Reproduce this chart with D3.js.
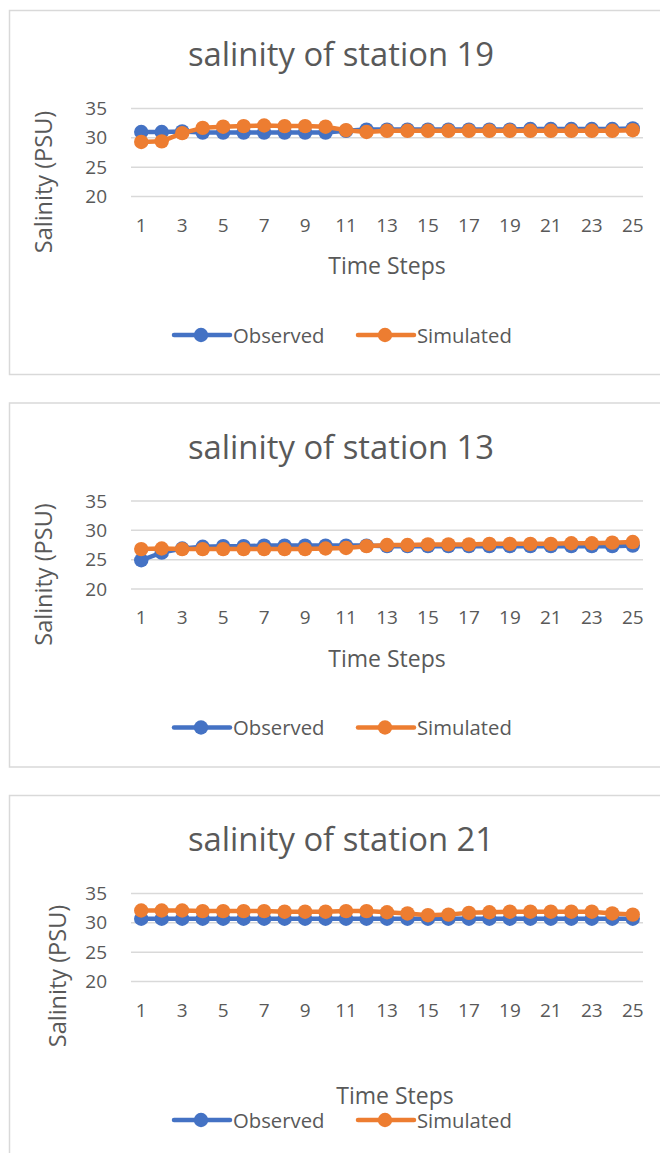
<!DOCTYPE html>
<html>
<head>
<meta charset="utf-8">
<script src="https://cdn.jsdelivr.net/npm/d3@7"></script>
<style>
  html, body { margin: 0; padding: 0; background: #fff; }
  svg { display: block; }
  text { font-family: "Open Sans", "Noto Sans", sans-serif; fill: #595959; }
</style>
</head>
<body>
<svg id="chart" width="660" height="1153"></svg>
<script>
// ---- Data ----
const timeSteps = d3.range(1, 26);
const xTickLabels = [1, 3, 5, 7, 9, 11, 13, 15, 17, 19, 21, 23, 25];
const yTickValues = [20, 25, 30, 35];
const seriesNames = ["Observed", "Simulated"];
const chartTitles = ["salinity of station 19", "salinity of station 13", "salinity of station 21"];

const observed19 = [31.0, 31.0, 31.1, 30.9, 30.9, 30.9, 30.9, 30.9, 30.9, 30.9, 31.2, 31.4, 31.4, 31.4, 31.4, 31.4, 31.4, 31.4, 31.4, 31.5, 31.5, 31.5, 31.5, 31.5, 31.6];
const simulated19 = [29.3, 29.4, 30.8, 31.7, 31.9, 32.0, 32.1, 32.0, 32.0, 31.9, 31.3, 31.0, 31.2, 31.2, 31.2, 31.2, 31.2, 31.2, 31.2, 31.2, 31.2, 31.2, 31.2, 31.2, 31.3];

const observed13 = [24.9, 26.2, 26.9, 27.2, 27.3, 27.3, 27.4, 27.4, 27.4, 27.4, 27.4, 27.4, 27.3, 27.3, 27.3, 27.3, 27.3, 27.3, 27.3, 27.3, 27.3, 27.3, 27.3, 27.3, 27.4];
const simulated13 = [26.8, 26.9, 26.8, 26.8, 26.8, 26.8, 26.8, 26.8, 26.8, 26.9, 27.0, 27.3, 27.5, 27.5, 27.6, 27.6, 27.6, 27.7, 27.7, 27.7, 27.7, 27.8, 27.8, 27.9, 28.0];

const observed21 = [30.7, 30.7, 30.7, 30.7, 30.7, 30.7, 30.7, 30.7, 30.7, 30.7, 30.7, 30.7, 30.7, 30.7, 30.7, 30.7, 30.7, 30.7, 30.7, 30.7, 30.7, 30.7, 30.7, 30.7, 30.7];
const simulated21 = [32.1, 32.1, 32.1, 32.0, 32.0, 32.0, 32.0, 31.9, 31.9, 31.9, 32.0, 32.0, 31.8, 31.6, 31.3, 31.4, 31.7, 31.8, 31.9, 31.9, 31.9, 31.9, 31.9, 31.6, 31.4];

// ---- Styling / layout ----
const colors = { Observed: "#4472c4", Simulated: "#ed7d31" };
const gridColor = "#d9d9d9";
const svg = d3.select("#chart");

const charts = [
  { title: chartTitles[0], obs: observed19, sim: simulated19, dy: 0, yTitleX: 44, yTitleY: 182, xTitleX: 387, xTitleY: 274 },
  { title: chartTitles[1], obs: observed13, sim: simulated13, dy: 392.5, yTitleX: 44, yTitleY: 182, xTitleX: 387, xTitleY: 274 },
  { title: chartTitles[2], obs: observed21, sim: simulated21, dy: 785, yTitleX: 58, yTitleY: 191, xTitleX: 395, xTitleY: 319 }
];

const plotLeft = 131, plotRight = 643, plotTop = 108.5, plotBottom = 196.5;

const x = d3.scaleBand().domain(timeSteps).range([plotLeft, plotRight]);
const y = d3.scaleLinear().domain([20, 35]).range([plotBottom, plotTop]);

charts.forEach(c => {
  const g = svg.append("g").attr("transform", `translate(0,${c.dy})`);

  // border box
  g.append("rect")
    .attr("x", 9.5).attr("y", 10.5)
    .attr("width", 680).attr("height", 364)
    .attr("fill", "#fff").attr("stroke", gridColor).attr("stroke-width", 1.5);

  // title
  g.append("text")
    .attr("x", 341).attr("y", 66)
    .attr("text-anchor", "middle")
    .attr("font-size", 32.8)
    .text(c.title);

  // gridlines
  g.append("g")
    .selectAll("line")
    .data(yTickValues)
    .join("line")
    .attr("x1", plotLeft).attr("x2", plotRight)
    .attr("y1", d => y(d)).attr("y2", d => y(d))
    .attr("stroke", gridColor).attr("stroke-width", 1.5);

  // y axis (labels only)
  const yAxis = g.append("g")
    .attr("transform", `translate(${plotLeft},0)`)
    .call(d3.axisLeft(y).tickValues(yTickValues).tickSize(0).tickPadding(24));
  yAxis.select(".domain").remove();
  yAxis.selectAll("text").attr("font-size", 19).attr("fill", "#595959")
    .style("font-family", '"Open Sans", sans-serif');

  // x axis (labels only)
  const xAxis = g.append("g")
    .attr("transform", `translate(0,${plotBottom})`)
    .call(d3.axisBottom(x).tickValues(xTickLabels).tickSize(0).tickPadding(22));
  xAxis.select(".domain").remove();
  xAxis.selectAll("text").attr("font-size", 19).attr("fill", "#595959")
    .style("font-family", '"Open Sans", sans-serif');

  // axis titles
  g.append("text")
    .attr("transform", `translate(${c.yTitleX + 8},${c.yTitleY}) rotate(-90)`)
    .attr("text-anchor", "middle")
    .attr("font-size", 23.5)
    .text("Salinity (PSU)");

  g.append("text")
    .attr("x", c.xTitleX).attr("y", c.xTitleY)
    .attr("text-anchor", "middle")
    .attr("font-size", 23)
    .text("Time Steps");

  // series
  const line = d3.line()
    .x((d, i) => x(timeSteps[i]) + x.bandwidth() / 2)
    .y(d => y(d));

  [["Observed", c.obs], ["Simulated", c.sim]].forEach(([name, vals]) => {
    const sg = g.append("g");
    sg.append("path")
      .datum(vals)
      .attr("d", line)
      .attr("fill", "none")
      .attr("stroke", colors[name])
      .attr("stroke-width", 4.5)
      .attr("stroke-linejoin", "round");
    sg.selectAll("circle")
      .data(vals)
      .join("circle")
      .attr("cx", (d, i) => x(timeSteps[i]) + x.bandwidth() / 2)
      .attr("cy", d => y(d))
      .attr("r", 7.2)
      .attr("fill", colors[name]);
  });

  // legend
  const legendY = 335;
  const legendItems = [
    { name: seriesNames[0], x0: 174 },
    { name: seriesNames[1], x0: 358 }
  ];
  legendItems.forEach(it => {
    const lg = g.append("g");
    lg.append("line")
      .attr("x1", it.x0).attr("x2", it.x0 + 56)
      .attr("y1", legendY).attr("y2", legendY)
      .attr("stroke", colors[it.name]).attr("stroke-width", 4.5)
      .attr("stroke-linecap", "round");
    lg.append("circle")
      .attr("cx", it.x0 + 27).attr("cy", legendY).attr("r", 7.2)
      .attr("fill", colors[it.name]);
    lg.append("text")
      .attr("x", it.x0 + 59).attr("y", legendY)
      .attr("dy", "0.38em")
      .attr("font-size", 20.3)
      .text(it.name);
  });
});
</script>
</body>
</html>
